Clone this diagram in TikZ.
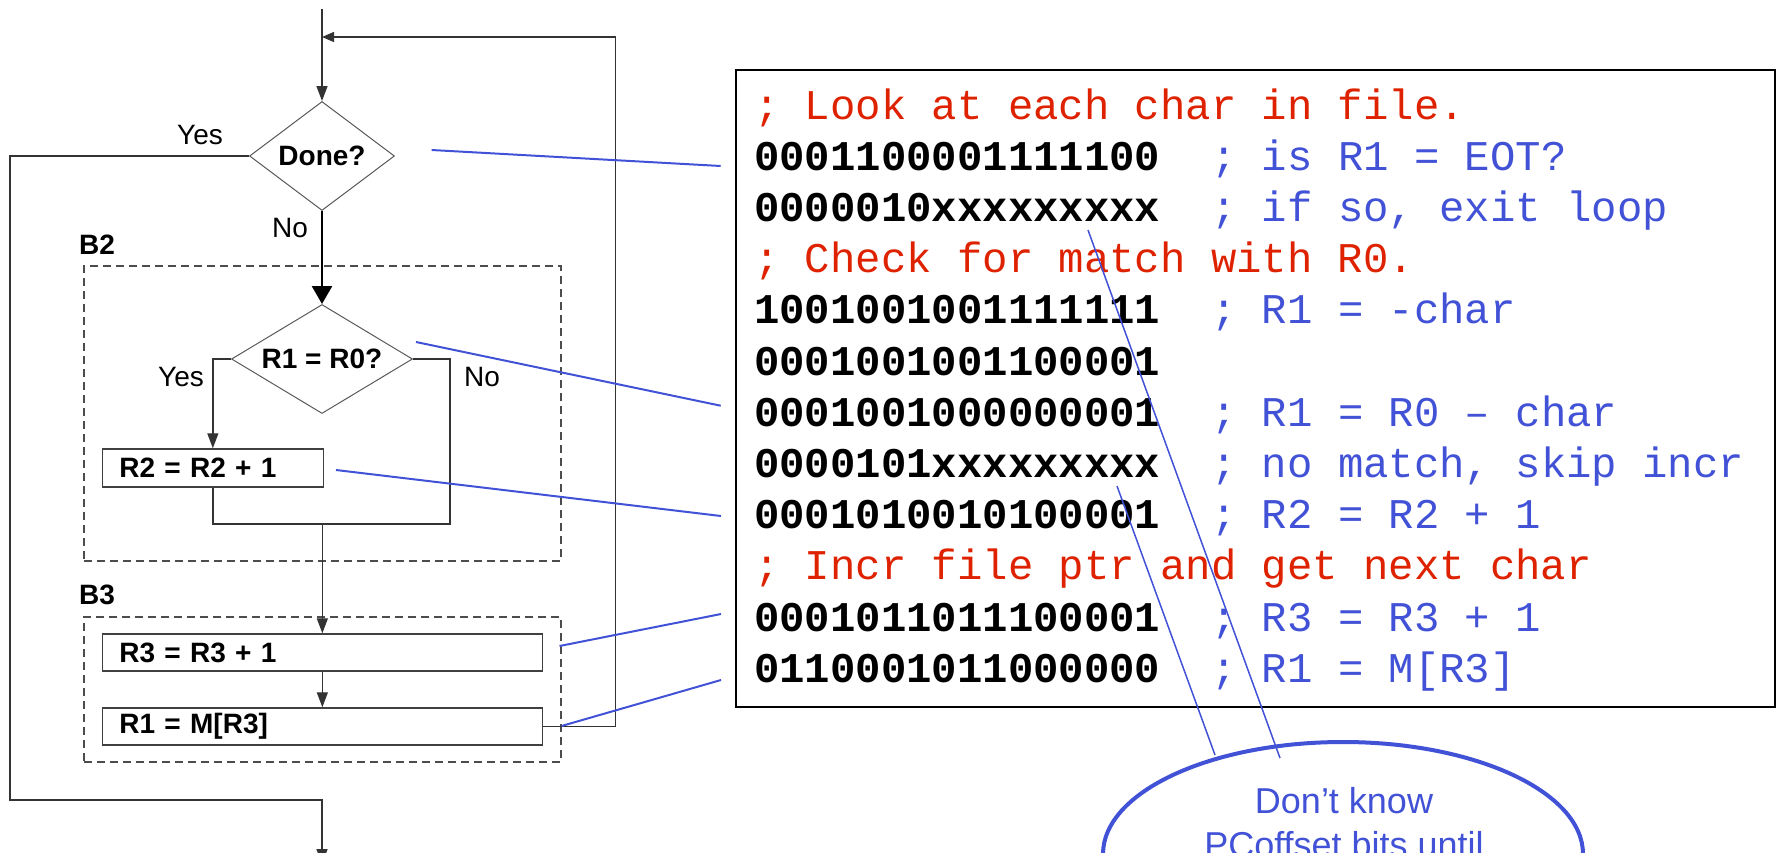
\documentclass[tikz,border=0pt]{standalone}
\usepackage{fontspec}
\setmainfont{Liberation Sans}
\newfontfamily\codefont{Liberation Mono}
\usetikzlibrary{shapes.geometric,arrows.meta}
\definecolor{cred}{RGB}{222,34,0}
\definecolor{cblue}{RGB}{66,82,214}
\begin{document}
\begin{tikzpicture}[x=1pt,y=-1pt,
  flow/.style={draw=black!80,line width=1.4pt},
  arr/.style={flow,-{Triangle[length=15pt,width=11pt]}},
  bigarr/.style={draw=black,line width=2.6pt,-{Triangle[length=18pt,width=20pt]}},
  dec/.style={shape=diamond,draw=black!65,line width=1pt,inner sep=0pt,font=\fontsize{28}{32}\selectfont\bfseries},
  opbox/.style={draw=black!75,line width=1.5pt,inner xsep=17pt,inner ysep=0pt,minimum height=37pt,align=left,font=\fontsize{28}{32}\selectfont\bfseries,anchor=west},
  grp/.style={draw=black!70,line width=1.4pt,dash pattern=on 8pt off 5pt,inner sep=0pt},
  lbl/.style={font=\fontsize{28}{32}\selectfont,inner sep=0pt},
  grplbl/.style={font=\fontsize{28}{32}\selectfont\bfseries,inner sep=0pt,anchor=west},
  codeline/.style={anchor=base west,inner sep=0pt,font=\codefont\fontsize{42.3}{50}\selectfont},
  ptr/.style={draw=cblue,line width=2pt},
  ptrthin/.style={draw=cblue,line width=1.5pt},
  notetext/.style={font=\fontsize{36}{44}\selectfont,text=cblue,anchor=base,inner sep=0pt},
]
\useasboundingbox (0,0) rectangle (1779,852);
\clip (0,0) rectangle (1779,852);

% ---------- flowchart ----------
\node[grp,minimum width=477pt,minimum height=295pt] (b2box) at (322.5,413.5) {};
\node[grp,minimum width=477pt,minimum height=145pt] (b3box) at (322.5,689.5) {};
\node[grplbl] (b2lbl) at (79,245) {B2};
\node[grplbl] (b3lbl) at (79,595) {B3};

\node[dec,minimum width=145pt,minimum height=109pt,aspect=1.33] (done) at (322,156) {Done?};
\node[dec,minimum width=181pt,minimum height=109pt,aspect=1.66] (eq) at (322,359) {R1 = R0?};
\node[opbox,text width=187pt,minimum height=38pt] (r2) at (101.6,468) {R2 = R2 + 1};
\node[opbox,text width=406pt] (r3) at (101.6,652.5) {R3 = R3 + 1};
\node[opbox,text width=406pt] (r1) at (101.6,726.5) {R1 = M[R3]};

\node[lbl] (yes1) at (200,135) {Yes};
\node[lbl] (no1) at (290,228) {No};
\node[lbl] (yes2) at (181,377) {Yes};
\node[lbl] (no2) at (482,377) {No};

\coordinate (start) at (322,9);
\coordinate (loopc) at (615.6,37);
\coordinate (loopin) at (322,37);
\coordinate (exitc) at (10,800);
\coordinate (exit) at (322,864);
\coordinate (mergeR) at (450,524);

\draw[arr] (start) -- (done.north);
\draw[flow,-{Triangle[length=12pt,width=10pt]}] (r1.east) -| (loopc) -- (loopin);
\draw[arr] (done.west) -| (exitc) -| (exit);
\draw[bigarr] (done.south) -- (eq.north);
\draw[arr] (eq.west) -| (r2.north);
\draw[flow] (eq.east) -| (mergeR) -- (r2.south |- mergeR) -- (r2.south);
\draw[arr] (r3.north |- mergeR) -- (r3.north);
\draw[arr] (r3.south) -- (r1.north);

% ---------- code ----------
\node[draw=black,line width=2.5pt,minimum width=1039pt,minimum height=637pt,inner sep=0pt] (code) at (1255.5,388.5) {};
\node[codeline,text=cred] (l1) at (754,119) {; Look at each char in file.};
\node[codeline] (l2) at (754,170.2) {\textbf{0001100001111100}\ \ \textcolor{cblue}{; is R1 = EOT?}};
\node[codeline] (l3) at (754,221.4) {\textbf{0000010xxxxxxxxx}\ \ \textcolor{cblue}{; if so, exit loop}};
\node[codeline,text=cred] (l4) at (754,272.6) {; Check for match with R0.};
\node[codeline] (l5) at (754,323.8) {\textbf{1001001001111111}\ \ \textcolor{cblue}{; R1 = -char}};
\node[codeline] (l6) at (754,375) {\textbf{0001001001100001}};
\node[codeline] (l7) at (754,426.2) {\textbf{0001001000000001}\ \ \textcolor{cblue}{; R1 = R0 – char}};
\node[codeline] (l8) at (754,477.4) {\textbf{0000101xxxxxxxxx}\ \ \textcolor{cblue}{; no match, skip incr}};
\node[codeline] (l9) at (754,528.6) {\textbf{0001010010100001}\ \ \textcolor{cblue}{; R2 = R2 + 1}};
\node[codeline,text=cred] (l10) at (754,579.8) {; Incr file ptr and get next char};
\node[codeline] (l11) at (754,631) {\textbf{0001011011100001}\ \ \textcolor{cblue}{; R3 = R3 + 1}};
\node[codeline] (l12) at (754,682.2) {\textbf{0110001011000000}\ \ \textcolor{cblue}{; R1 = M[R3]}};

% ---------- note ----------
\node[draw=cblue,line width=4pt,ellipse,minimum width=480pt,minimum height=224pt,inner sep=0pt] (note) at (1343,854) {};
\node[notetext] (nt1) at (1344,813) {Don’t know};
\node[notetext] (nt2) at (1344,857) {PCoffset bits until};

% ---------- pointers ----------
\coordinate (p1a) at (431.7,150);  \coordinate (p1b) at (720.7,166);
\coordinate (p2a) at (416,342);    \coordinate (p2b) at (720.7,405.7);
\coordinate (p3a) at (336,470);    \coordinate (p3b) at (721,516);
\coordinate (p4a) at (559.5,646);  \coordinate (p4b) at (721,614);
\coordinate (p5a) at (561.5,726);  \coordinate (p5b) at (721,680);
\coordinate (xa) at (1088,230);    \coordinate (na) at (1280,758);
\coordinate (xb) at (1117,486);    \coordinate (nb) at (1215,755);
\draw[ptr] (p1a) -- (p1b);
\draw[ptr] (p2a) -- (p2b);
\draw[ptr] (p3a) -- (p3b);
\draw[ptr] (p4a) -- (p4b);
\draw[ptr] (p5a) -- (p5b);
\draw[ptrthin] (xa) -- (na);
\draw[ptrthin] (xb) -- (nb);
\end{tikzpicture}
\end{document}
